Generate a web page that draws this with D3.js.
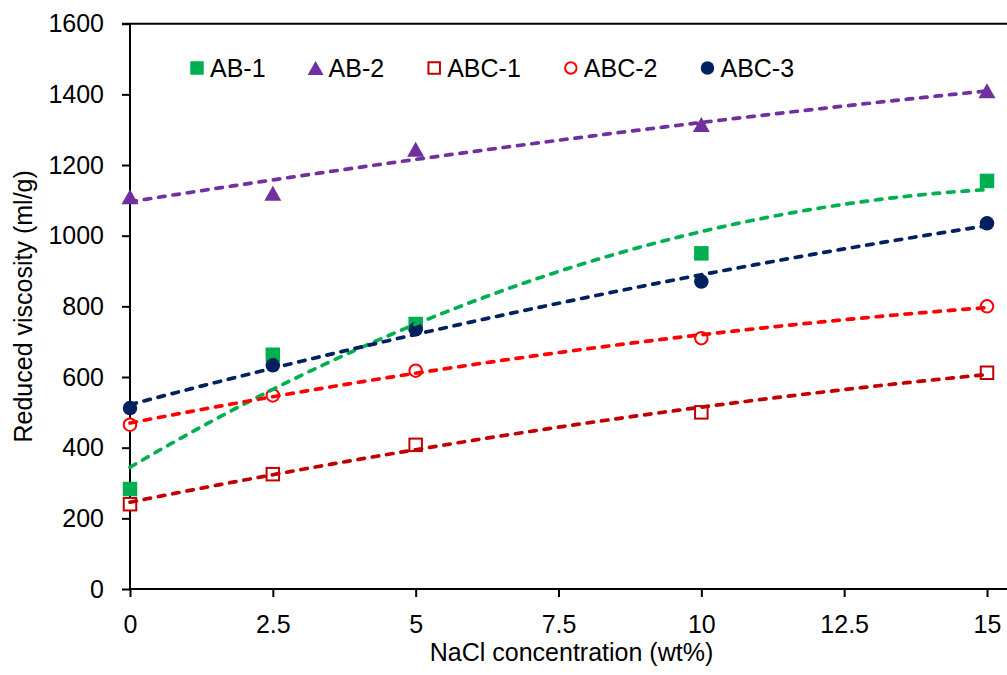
<!DOCTYPE html>
<html>
<head>
<meta charset="utf-8">
<script src="https://cdn.jsdelivr.net/npm/d3@7"></script>
<style>
  body { margin: 0; background: #fff; }
  svg { display: block; font-family: "Liberation Sans", Arial, sans-serif; }
</style>
</head>
<body>
<svg id="chart"></svg>
<script>
// NaCl concentration (wt%)
const concentrations = [0, 2.5, 5, 10, 15];
const xTicks = [0, 2.5, 5, 7.5, 10, 12.5, 15];
const yTicks = [0, 200, 400, 600, 800, 1000, 1200, 1400, 1600];

// reduced viscosity (ml/g)
const ab1 = [283, 663, 750, 950, 1155];
const ab2 = [1110, 1120, 1245, 1315, 1410];
const abc1 = [240, 325, 408, 500, 612];
const abc2 = [465, 548, 618, 710, 800];
const abc3 = [512, 633, 735, 870, 1035];

const seriesNames = ['AB-1', 'AB-2', 'ABC-1', 'ABC-2', 'ABC-3'];
const seriesValues = [ab1, ab2, abc1, abc2, abc3];

const styles = {
  'AB-1': { color: '#00B050', shape: 'square', filled: true },
  'AB-2': { color: '#7030A0', shape: 'triangle', filled: true },
  'ABC-1': { color: '#C00000', shape: 'square', filled: false },
  'ABC-2': { color: '#FF0000', shape: 'circle', filled: false },
  'ABC-3': { color: '#002060', shape: 'circle', filled: true }
};

const width = 1007, height = 675;
const svg = d3.select('#chart').attr('width', width).attr('height', height);

const x = d3.scaleLinear().domain([0, 15.35]).range([130, 1007]);
const y = d3.scaleLinear().domain([0, 1600]).range([589, 23.7]);

// 2nd order least-squares fit, same as the spreadsheet trendline
function quadFit(xs, ys) {
  const n = xs.length;
  const s = k => d3.sum(xs, v => Math.pow(v, k));
  const sy = k => d3.sum(xs, (v, i) => Math.pow(v, k) * ys[i]);
  const A = [[n, s(1), s(2)], [s(1), s(2), s(3)], [s(2), s(3), s(4)]];
  const B = [sy(0), sy(1), sy(2)];
  // gaussian elimination
  for (let i = 0; i < 3; i++) {
    for (let j = i + 1; j < 3; j++) {
      const f = A[j][i] / A[i][i];
      for (let k = i; k < 3; k++) A[j][k] -= f * A[i][k];
      B[j] -= f * B[i];
    }
  }
  const c = [0, 0, 0];
  for (let i = 2; i >= 0; i--) {
    let t = B[i];
    for (let k = i + 1; k < 3; k++) t -= A[i][k] * c[k];
    c[i] = t / A[i][i];
  }
  return v => c[0] + c[1] * v + c[2] * v * v;
}

function drawMarker(g, style, cx, cy, size) {
  const h = size / 2;
  const fill = style.filled ? style.color : '#fff';
  const sw = style.filled ? 0 : 2;
  if (style.shape === 'square') {
    const e = style.filled ? h : h - 1;
    g.append('rect')
      .attr('x', cx - e).attr('y', cy - e)
      .attr('width', e * 2).attr('height', e * 2)
      .attr('fill', fill).attr('stroke', style.color).attr('stroke-width', sw);
  } else if (style.shape === 'triangle') {
    g.append('path')
      .attr('d', `M${cx},${cy - h}L${cx + h + 1},${cy + h}L${cx - h - 1},${cy + h}Z`)
      .attr('fill', fill);
  } else {
    g.append('circle')
      .attr('cx', cx).attr('cy', cy)
      .attr('r', style.filled ? h : h - 1)
      .attr('fill', fill).attr('stroke', style.color).attr('stroke-width', sw);
  }
}

// Axes
const xAxis = svg.append('g')
  .attr('transform', `translate(0,${y(0)})`)
  .call(d3.axisBottom(x).tickValues(xTicks).tickSize(8).tickPadding(18)
    .tickFormat(d => String(d)));
const yAxis = svg.append('g')
  .attr('transform', `translate(${x(0)},0)`)
  .call(d3.axisLeft(y).tickValues(yTicks).tickSize(8).tickPadding(18)
    .tickFormat(d3.format('d')));

[xAxis, yAxis].forEach(a => {
  a.select('.domain').attr('stroke', '#000').attr('stroke-width', 2);
  a.selectAll('.tick line').attr('stroke', '#000').attr('stroke-width', 2);
  a.selectAll('.tick text')
    .attr('fill', '#000')
    .attr('font-size', 25)
    .attr('font-family', '"Liberation Sans", Arial, sans-serif');
});
xAxis.select('.domain').attr('d', `M${x(0)},0H${width}`);
yAxis.select('.domain').attr('d', `M0,${y(1600)}V${y(0)}`);

// top border
svg.append('line')
  .attr('x1', x(0) - 8).attr('x2', width)
  .attr('y1', y(1600)).attr('y2', y(1600))
  .attr('stroke', '#000').attr('stroke-width', 2);

// Axis titles
svg.append('text')
  .attr('x', (x(0) + width) / 2 + 3)
  .attr('y', 661)
  .attr('text-anchor', 'middle')
  .attr('font-size', 25)
  .text('NaCl concentration (wt%)');

svg.append('text')
  .attr('transform', 'rotate(-90)')
  .attr('x', -(y(0) + y(1600)) / 2)
  .attr('y', 32)
  .attr('text-anchor', 'middle')
  .attr('font-size', 25)
  .text('Reduced viscosity (ml/g)');

// Markers
const marks = svg.append('g');
seriesNames.forEach((name, si) => {
  const st = styles[name];
  seriesValues[si].forEach((v, i) => {
    drawMarker(marks, st, x(concentrations[i]), y(v), name === 'AB-2' ? 15 : 14.5);
  });
});

// Trendlines
const line = d3.line().x(d => x(d[0])).y(d => y(d[1]));
const trends = svg.append('g');
seriesNames.forEach((name, si) => {
  const f = quadFit(concentrations, seriesValues[si]);
  const pts = d3.range(0, 15.001, 0.1).map(v => [v, f(v)]);
  trends.append('path')
    .attr('d', line(pts))
    .attr('fill', 'none')
    .attr('stroke', styles[name].color)
    .attr('stroke-width', 3.7)
    .attr('stroke-linecap', 'round')
    .attr('stroke-dasharray', '6.5 8');
});

// Legend
const legend = svg.append('g');
let lx = 210;
seriesNames.forEach(name => {
  const item = legend.append('g');
  drawMarker(item, styles[name], lx - 13, 68, name === 'AB-2' ? 14 : 13.5);
  const t = item.append('text')
    .attr('x', lx).attr('y', 77)
    .attr('font-size', 25)
    .text(name);
  lx += t.node().getComputedTextLength() + 63;
});
</script>
</body>
</html>
